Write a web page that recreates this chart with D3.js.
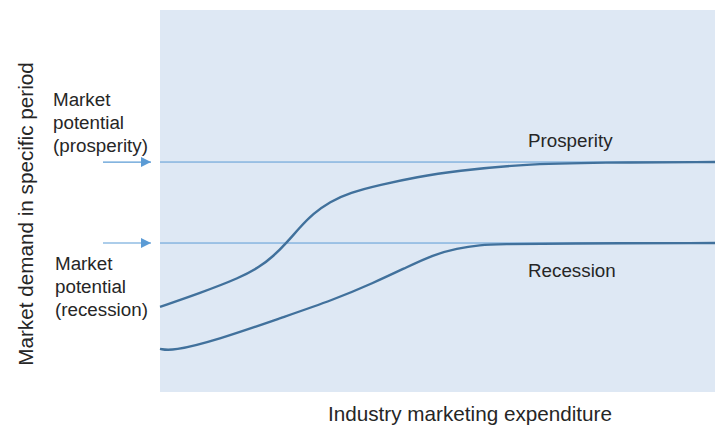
<!DOCTYPE html>
<html>
<head>
<meta charset="utf-8">
<script src="https://cdn.jsdelivr.net/npm/d3@7"></script>
<style>
  body { margin: 0; background: #fff; }
  text { font-family: "Liberation Sans", Arial, sans-serif; fill: #262626; }
</style>
</head>
<body>
<div class="vis"></div>
<script>
'use strict';

// expenditure (0-100) vs demand (0-100)
var prosperityX = [0, 7.2, 14.4, 18.0, 20.4, 22.9, 25.2, 27.6, 30.6, 34.2, 39.6, 46.3, 53.5, 64.9, 79.3, 100];
var prosperityY = [22.3, 25.9, 29.9, 32.8, 35.5, 39.2, 43.1, 46.7, 49.8, 52.2, 54.2, 56.3, 57.9, 59.6, 60.1, 60.2];
var recessionX = [0, 2.2, 10.3, 22.2, 31.2, 38.4, 44.5, 49.2, 53.5, 57.7, 61.3, 72.1, 100];
var recessionY = [11.3, 10.7, 13.6, 19.6, 24.1, 28.5, 32.7, 35.9, 37.6, 38.5, 38.7, 38.9, 39.0];
var potentials = [
  { label: ['Market', 'potential', '(prosperity)'], value: 60.2 },
  { label: ['Market', 'potential', '(recession)'], value: 39.0 }
];

(function () {
  var width = 715, height = 432;
  var plot = { left: 160, right: 715, top: 10, bottom: 392 };

  var curveColor = '#41719c';
  var lineColor = '#5b9bd5';

  var x = d3.scaleLinear().domain([0, 100]).range([plot.left, plot.right]);
  var y = d3.scaleLinear().domain([0, 100]).range([plot.bottom, plot.top]);

  var svg = d3.select('.vis').append('svg')
    .attr('width', width)
    .attr('height', height);

  svg.append('defs').append('marker')
    .attr('id', 'arrow')
    .attr('viewBox', '0 0 10 10')
    .attr('refX', 10).attr('refY', 5)
    .attr('markerWidth', 11).attr('markerHeight', 10)
    .attr('markerUnits', 'userSpaceOnUse')
    .attr('orient', 'auto')
    .append('path')
    .attr('d', 'M0,0L10,5L0,10Z')
    .attr('fill', lineColor);

  // plot background
  svg.append('rect')
    .attr('x', plot.left).attr('y', plot.top)
    .attr('width', plot.right - plot.left)
    .attr('height', plot.bottom - plot.top)
    .attr('fill', '#dee8f4');

  // potential lines + arrows + labels
  var labelTop = [106, 270];
  potentials.forEach(function (p, i) {
    svg.append('line')
      .attr('x1', x(0)).attr('x2', x(100))
      .attr('y1', y(p.value)).attr('y2', y(p.value))
      .attr('stroke', lineColor).attr('stroke-width', 1);

    svg.append('line')
      .attr('x1', 103).attr('x2', 151)
      .attr('y1', y(p.value)).attr('y2', y(p.value))
      .attr('stroke', lineColor).attr('stroke-width', 1.2)
      .attr('marker-end', 'url(#arrow)');

    var lx = i === 0 ? 53 : 55;
    svg.append('text')
      .attr('x', lx)
      .attr('y', labelTop[i])
      .attr('font-size', 18.8)
      .selectAll('tspan')
      .data(p.label)
      .join('tspan')
      .attr('x', lx)
      .attr('dy', function (d, j) { return j === 0 ? 0 : 23; })
      .text(function (d) { return d; });
  });

  // basis smooths out small reading errors in the points
  var line = d3.line()
    .x(function (d) { return x(d[0]); })
    .y(function (d) { return y(d[1]); })
    .curve(d3.curveBasis);

  [[prosperityX, prosperityY], [recessionX, recessionY]].forEach(function (s) {
    svg.append('path')
      .datum(d3.zip(s[0], s[1]))
      .attr('d', line)
      .attr('fill', 'none')
      .attr('stroke', curveColor)
      .attr('stroke-width', 2.4);
  });

  // curve labels
  svg.append('text')
    .attr('x', 528).attr('y', 147)
    .attr('font-size', 18.8)
    .text('Prosperity');
  svg.append('text')
    .attr('x', 528).attr('y', 277)
    .attr('font-size', 18.8)
    .text('Recession');

  // axis titles
  svg.append('text')
    .attr('x', 470).attr('y', 421)
    .attr('text-anchor', 'middle').attr('font-size', 20.7)
    .text('Industry marketing expenditure');
  svg.append('text')
    .attr('transform', 'translate(33,214) rotate(-90)')
    .attr('text-anchor', 'middle').attr('font-size', 20.7)
    .text('Market demand in specific period');
})();
</script>
</body>
</html>
